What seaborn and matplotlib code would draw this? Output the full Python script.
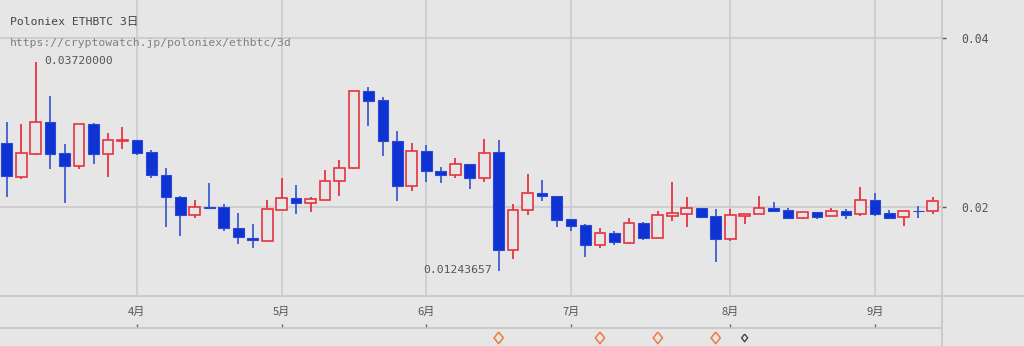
import numpy as np
import pandas as pd
import matplotlib
matplotlib.use("Agg")
import matplotlib.pyplot as plt
from matplotlib.lines import Line2D
import seaborn as sns

# ---------------- data (Poloniex ETHBTC, 3-day candles, 2016) ----------------
opens = [0.02761, 0.02359, 0.02627, 0.03002, 0.02636, 0.02485, 0.02979, 0.02631, 0.02781, 0.02793,
         0.02651, 0.02382, 0.02122, 0.01909, 0.01996, 0.02000, 0.01755, 0.01633, 0.01601, 0.01968,
         0.02110, 0.02044, 0.02079, 0.02304, 0.02458, 0.03373, 0.03263, 0.02785, 0.02252, 0.02659,
         0.02430, 0.02375, 0.02505, 0.02340, 0.02651, 0.01495, 0.01961, 0.02162, 0.02134, 0.01858,
         0.01783, 0.01554, 0.01692, 0.01578, 0.01807, 0.01637, 0.01893, 0.01921, 0.01988, 0.01890,
         0.01618, 0.01897, 0.01914, 0.01988, 0.01968, 0.01873, 0.01944, 0.01890, 0.01953, 0.01914,
         0.02086, 0.01925, 0.01878, 0.01953, 0.01949]
highs = [0.03006, 0.02979, 0.03720000, 0.03317, 0.02742, 0.02985, 0.02991, 0.02876, 0.02943, 0.02795,
         0.02671, 0.02462, 0.02125, 0.02079, 0.02284, 0.02036, 0.01925, 0.01799, 0.02083, 0.02340,
         0.02257, 0.02122, 0.02438, 0.02556, 0.03375, 0.03417, 0.03305, 0.02899, 0.02757, 0.02730,
         0.02470, 0.02583, 0.02510, 0.02801, 0.02789, 0.02036, 0.02391, 0.02316, 0.02136, 0.01860,
         0.01799, 0.01751, 0.01716, 0.01873, 0.01822, 0.01949, 0.02292, 0.02118, 0.01990, 0.01973,
         0.01973, 0.01918, 0.02130, 0.02059, 0.01988, 0.01942, 0.01946, 0.01992, 0.01976, 0.02233,
         0.02162, 0.01961, 0.01955, 0.02008, 0.02118]
lows = [0.02122, 0.02331, 0.02620, 0.02453, 0.02051, 0.02453, 0.02512, 0.02351, 0.02683, 0.02615,
        0.02340, 0.01767, 0.01657, 0.01873, 0.01973, 0.01720, 0.01559, 0.01511, 0.01598, 0.01966,
        0.01914, 0.01937, 0.02077, 0.02134, 0.02455, 0.02955, 0.02600, 0.02075, 0.02193, 0.02292,
        0.02280, 0.02343, 0.02213, 0.02296, 0.01243657, 0.01381, 0.01902, 0.02075, 0.01767, 0.01720,
        0.01412, 0.01511, 0.01547, 0.01559, 0.01613, 0.01636, 0.01831, 0.01767, 0.01884, 0.01349,
        0.01601, 0.01795, 0.01913, 0.01955, 0.01870, 0.01858, 0.01862, 0.01889, 0.01862, 0.01890,
        0.01890, 0.01868, 0.01775, 0.01873, 0.01914]
closes = [0.02363, 0.02636, 0.03002, 0.02631, 0.02485, 0.02979, 0.02631, 0.02793, 0.02793, 0.02643,
          0.02375, 0.02118, 0.01909, 0.01996, 0.01988, 0.01748, 0.01641, 0.01606, 0.01973, 0.02110,
          0.02044, 0.02098, 0.02308, 0.02465, 0.03373, 0.03258, 0.02778, 0.02252, 0.02659, 0.02422,
          0.02375, 0.02505, 0.02340, 0.02636, 0.01495, 0.01965, 0.02162, 0.02130, 0.01846, 0.01775,
          0.01554, 0.01692, 0.01582, 0.01807, 0.01637, 0.01902, 0.01925, 0.01988, 0.01885, 0.01618,
          0.01902, 0.01917, 0.01988, 0.01956, 0.01870, 0.01941, 0.01885, 0.01953, 0.01909, 0.02086,
          0.01917, 0.01870, 0.01953, 0.01947, 0.02071]

month_labels = ["4月", "5月", "6月", "7月", "8月", "9月"]
month_candles = [9, 19, 29, 39, 50, 60]          # candle index where each month starts
event_candles = [34, 41, 45, 49]                  # orange markers
event_small = [51]                                # small dark marker
y_ticks = [0.02, 0.04]
title = "Poloniex ETHBTC 3日"
subtitle = "https://cryptowatch.jp/poloniex/ethbtc/3d"

df = pd.DataFrame({"open": opens, "high": highs, "low": lows, "close": closes})
df["idx"] = np.arange(len(df))
df["up"] = df["close"] >= df["open"]

# ---------------- style ----------------
BG = "#e6e6e6"
GRID = "#c9c9c9"
RED = "#e8333f"
BLUE = "#0f33d2"
BLUE_WICK = "#3f5bd0"
sns.set_theme(style="white", rc={"axes.facecolor": BG, "figure.facecolor": BG})
MONO = ["DejaVu Sans Mono", "Noto Sans CJK JP"]
plt.rcParams["font.family"] = MONO

W, H = 1024, 346
fig = plt.figure(figsize=(W / 100, H / 100), dpi=100, facecolor=BG)
ax = fig.add_axes([0, 50 / H, 941 / W, 296 / H])
ax_m = fig.add_axes([0, 18 / H, 941 / W, 32 / H], sharex=ax)
ax_e = fig.add_axes([0, 0, 941 / W, 18 / H], sharex=ax)

for a in (ax, ax_m, ax_e):
    a.set_facecolor(BG)
    for s in a.spines.values():
        s.set_visible(False)

# candles
width = 0.74
up = df[df["up"]]
dn = df[~df["up"]]
ax.vlines(up["idx"], up["low"], up["high"], color=RED, lw=1.3, zorder=2)
ax.vlines(dn["idx"], dn["low"], dn["high"], color=BLUE_WICK, lw=1.3, zorder=2)
ax.bar(dn["idx"], (dn["open"] - dn["close"]).clip(lower=0.00004), bottom=dn["close"],
       width=width, color=BLUE, edgecolor="#2a48d6", linewidth=0.8, zorder=3)
ax.bar(up["idx"], (up["close"] - up["open"]).clip(lower=0.00004), bottom=up["open"],
       width=width, color=BG, edgecolor=RED, linewidth=1.2, zorder=3)

ax.set_xlim(-0.463, 64.57)
ax.set_ylim(0.009467, 0.044497)
ax.set_xticks(month_candles)
ax.set_yticks(y_ticks)
ax.yaxis.tick_right()
ax.tick_params(axis="x", length=0, labelbottom=False)
ax.tick_params(axis="y", direction="out", length=3.8, width=1, color="#555555",
               pad=11, labelsize=8.3, labelcolor="#555555", right=True, left=False)
ax.set_yticklabels([f"{v:.2f}" for v in y_ticks])
ax.grid(True, color=GRID, lw=1.1, zorder=0)
ax.set_xlabel("")
ax.set_ylabel("")

# max / min annotations
ih = int(np.argmax(highs))
il = int(np.argmin(lows))
ax.annotate(f"{highs[ih]:.8f}", xy=(ih, highs[ih]), xytext=(6, 0.5), textcoords="offset points",
            ha="left", va="center", fontsize=8.2, color="#555555")
ax.annotate(f"{lows[il]:.8f}", xy=(il, lows[il]), xytext=(-4.5, 0.5), textcoords="offset points",
            ha="right", va="center", fontsize=8.2, color="#555555")

# month strip
ax_m.set_ylim(0, 1)
ax_m.set_yticks([])
ax_m.tick_params(axis="x", direction="in", length=3, width=1, color="#666666",
                 labelbottom=False, bottom=True)
tr = ax_m.get_xaxis_transform()
for pos, lab in zip(month_candles, month_labels):
    ax_m.text(pos, 0.5, lab, transform=tr, ha="center", va="center", fontsize=8,
              color="#555555", family=["Noto Sans CJK JP", "DejaVu Sans"])

# events strip
ax_e.set_ylim(0, 1)
ax_e.set_yticks([])
ax_e.tick_params(axis="x", length=0, labelbottom=False)
diamond = [(0, 1), (0.8, 0), (0, -1), (-0.8, 0), (0, 1)]
sns.scatterplot(x=event_candles, y=[0.45] * len(event_candles), ax=ax_e, marker=diamond,
                s=70, facecolor="none", edgecolor="#f07a3c", linewidth=1.1, color="#f07a3c",
                legend=False, zorder=3)
sns.scatterplot(x=event_small, y=[0.45] * len(event_small), ax=ax_e, marker=diamond,
                s=30, facecolor="none", edgecolor="#444444", linewidth=1.0, color="#444444",
                legend=False, zorder=3)
ax_e.set_xlabel("")
ax_e.set_ylabel("")
ax_m.set_xlabel("")
ax_m.set_ylabel("")

# separators
fig.add_artist(Line2D([0, 1], [1 - 296 / H] * 2, color=GRID, lw=1.3))
fig.add_artist(Line2D([0, 941 / W], [1 - 328 / H] * 2, color=GRID, lw=1.3))
fig.add_artist(Line2D([941.5 / W] * 2, [0, 1], color=GRID, lw=1.3))

# titles
fig.text(10 / W, 1 - 22 / H, title, ha="left", va="center", fontsize=8.2, color="#444444",
         family=MONO)
fig.text(10 / W, 1 - 43 / H, subtitle, ha="left", va="center", fontsize=8.2, color="#808080",
         family=MONO)

fig.savefig("out.png", dpi=100, facecolor=BG)
